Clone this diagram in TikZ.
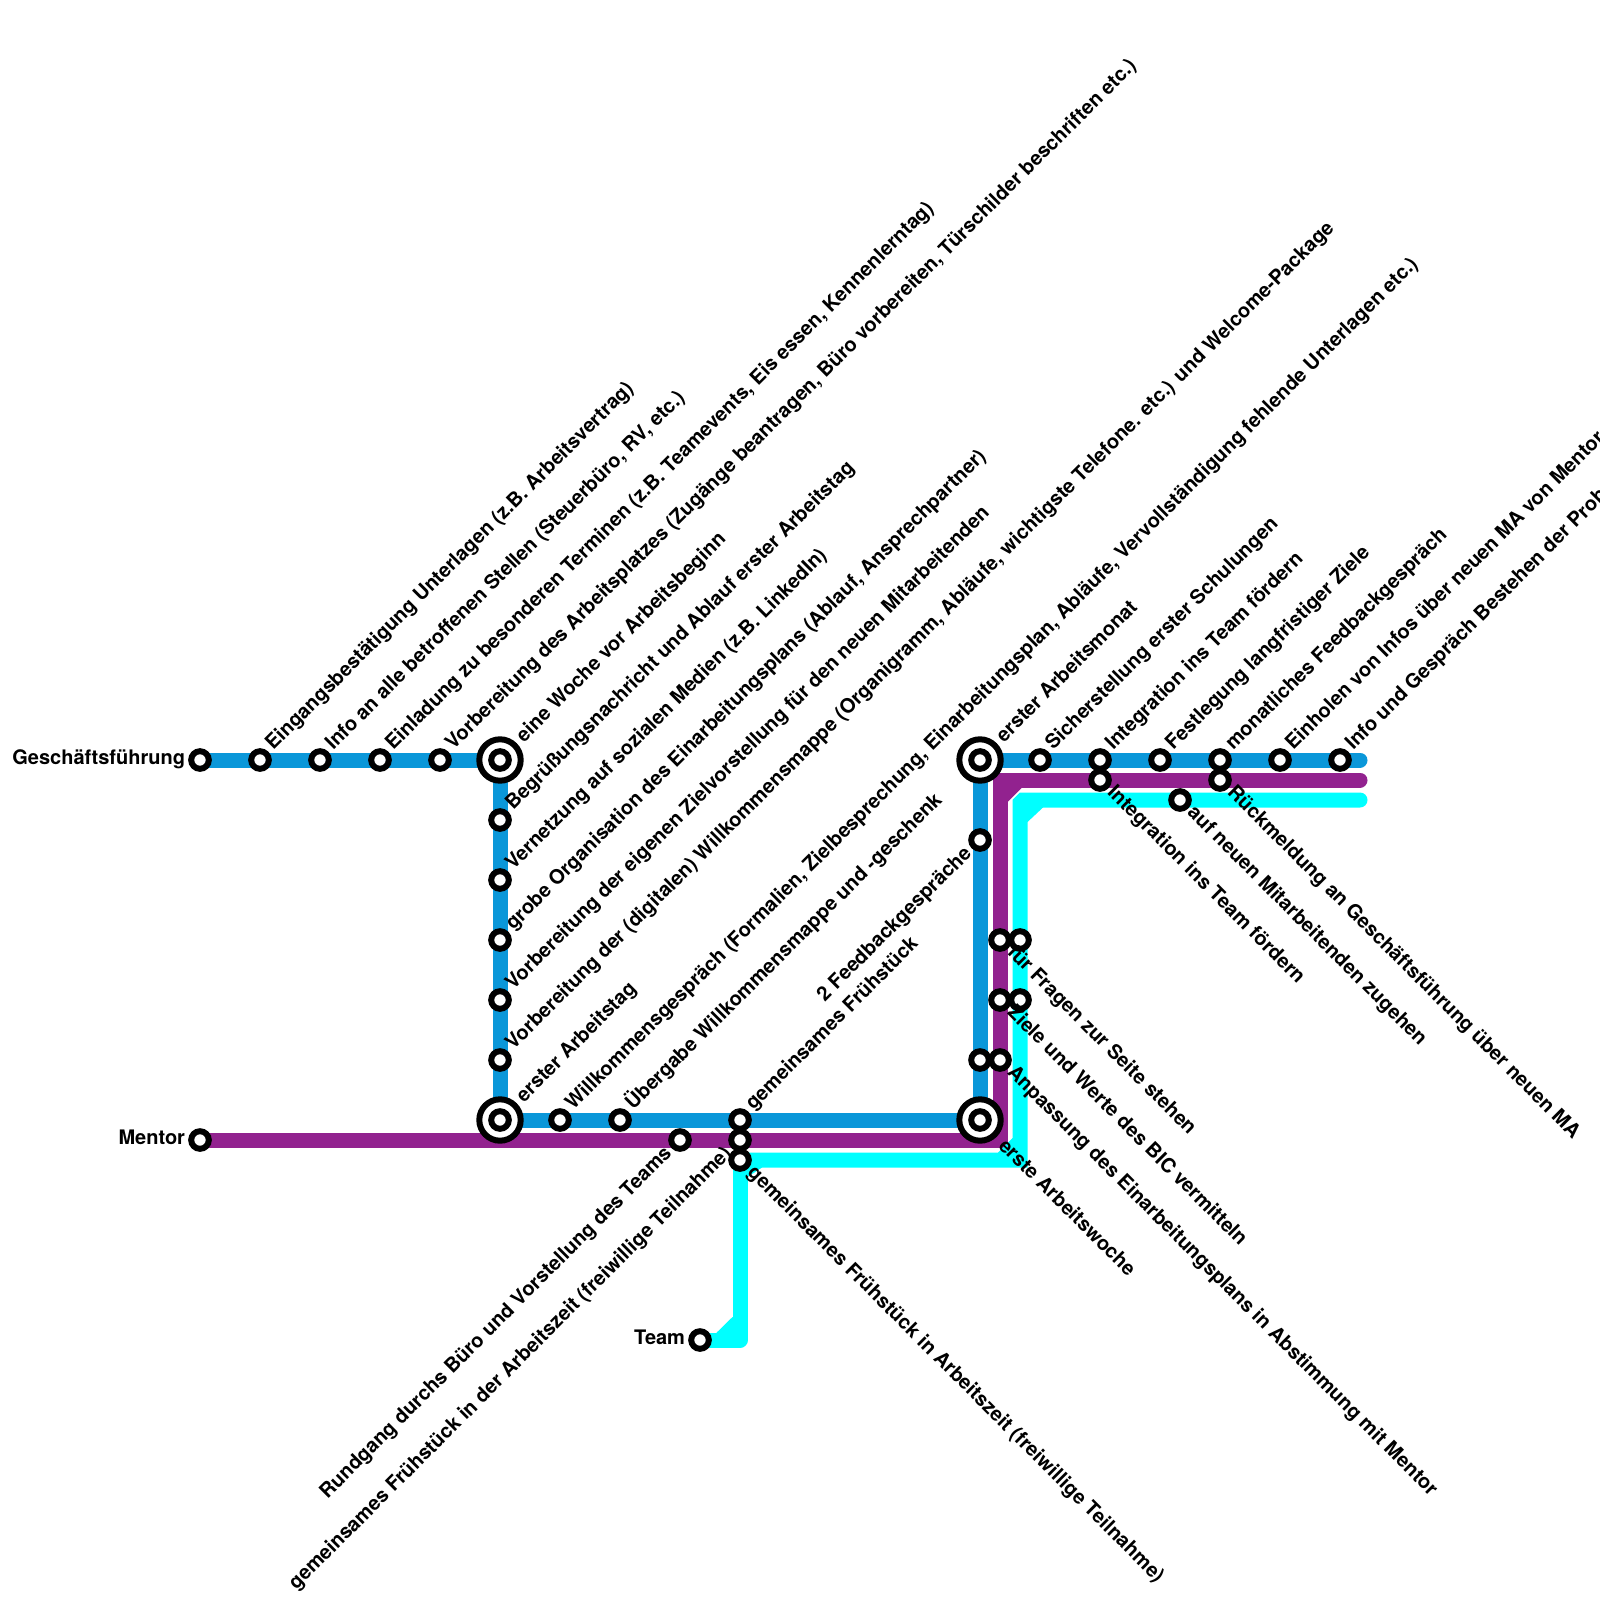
\documentclass[tikz,border=0pt]{standalone}
\usepackage{fontspec}
\setmainfont{TeX Gyre Heros}
\usetikzlibrary{backgrounds}
\definecolor{lineblue}{HTML}{0A97D9}
\definecolor{linepurple}{HTML}{92228F}
\definecolor{linecyan}{HTML}{00FFFF}
\tikzset{
  stationdot/.style={circle,draw=black,fill=white,line width=6pt,inner sep=0pt,minimum size=17.6pt},
  stationbig/.style={circle,draw=black,fill=white,line width=6pt,inner sep=0pt,minimum size=41.4pt},
  lineend/.style={line width=15pt,line cap=round,line join=miter},
  uplabel/.style={rotate=45,anchor=base west,inner sep=0pt,outer sep=0pt,font=\fontsize{20}{24}\selectfont\bfseries},
  downlabel/.style={rotate=-45,anchor=base west,inner sep=0pt,outer sep=0pt,font=\fontsize{20}{24}\selectfont\bfseries},
  backlabel/.style={rotate=45,anchor=base east,inner sep=0pt,outer sep=0pt,font=\fontsize{20}{24}\selectfont\bfseries},
  namelabel/.style={anchor=base east,inner sep=0pt,outer sep=0pt,font=\fontsize{20}{24}\selectfont\bfseries},
}
\newcommand{\stn}[3]{\node[stationdot] (#1) at (#2,#3) {};}
\newcommand{\bigstn}[3]{\node[stationbig] (#1o) at (#2,#3) {}; \node[stationdot] (#1) at (#2,#3) {};}
\newcommand{\lu}[3]{\node[uplabel] (#1) at ([shift={(13.4,-9.2)}]#2.center) {#3};}
\newcommand{\lub}[3]{\node[uplabel] (#1) at ([shift={(24,-17)}]#2.center) {#3};}
\newcommand{\ld}[3]{\node[downlabel] (#1) at ([shift={(6.5,13.5)}]#2.center) {#3};}
\newcommand{\ldb}[3]{\node[downlabel] (#1) at ([shift={(17.5,27)}]#2.center) {#3};}
\newcommand{\lb}[3]{\node[backlabel] (#1) at ([shift={(-7.5,14.5)}]#2.center) {#3};}
\begin{document}
\begin{tikzpicture}[x=1pt,y=-1pt]
\useasboundingbox (0,0) rectangle (1600,1600);
\clip (0,0) rectangle (1600,1600);
% stations
\stn{gf}{200}{760}
\stn{a}{260}{760}\stn{b}{320}{760}\stn{c}{380}{760}\stn{d}{440}{760}
\bigstn{e}{500}{760}
\stn{f}{500}{820}\stn{g}{500}{880}\stn{h}{500}{940}\stn{i}{500}{1000}\stn{j}{500}{1060}
\bigstn{k}{500}{1120}
\stn{l}{560}{1120}\stn{m}{620}{1120}
\stn{men}{200}{1140}\stn{n}{680}{1140}
\stn{oa}{740}{1120}\stn{ob}{740}{1140}\stn{oc}{740}{1160}
\stn{team}{700}{1340}
\bigstn{p}{980}{1120}
\stn{qa}{980}{1060}\stn{qb}{1000}{1060}
\stn{ra}{1000}{1000}\stn{rb}{1020}{1000}
\stn{sa}{1000}{940}\stn{sb}{1020}{940}
\stn{t}{980}{840}
\bigstn{u}{980}{760}
\stn{v}{1040}{760}
\stn{wa}{1100}{760}\stn{wb}{1100}{780}
\stn{x}{1160}{760}\stn{xc}{1180}{800}
\stn{ya}{1220}{760}\stn{yb}{1220}{780}
\stn{z}{1280}{760}\stn{zz}{1340}{760}
% line ends and bends
\coordinate (blueend) at (1360,760);
\coordinate (purpleend) at (1360,780);
\coordinate (cyanend) at (1360,800);
\coordinate (purplebendb) at (1000,1140);
\coordinate (purplebendt) at (1000,780);
\coordinate (cyanbenda) at (740,1340);
\coordinate (cyanbendb) at (1020,1160);
\coordinate (cyanbendc) at (1020,803);
\coordinate (cyanbendd) at (1023,800);
\begin{pgfonlayer}{background}
  \draw[lineend,lineblue] (gf.center) -- (e.center) -- (k.center) -- (p.center) -- (u.center) -- (blueend);
  \draw[lineend,linepurple] (men.center) -- (purplebendb) -- (purplebendt) -- (purpleend);
  \fill[linepurple] (1007.5,802) -- (1022,787.5) -- (1022,785) -- (1005,785) -- (1005,802) -- cycle;
  \draw[lineend,linecyan,line join=round] (team.center) -- (cyanbenda) -- (oc.center);
  \draw[lineend,linecyan] (oc.center) -- (cyanbendb) -- (cyanbendc) -- (cyanbendd) -- (cyanend);
  \fill[linecyan] (716.7,1332.5) -- (732.5,1317) -- (735,1317) -- (735,1335) -- (716.7,1335) -- cycle;
  \fill[linecyan] (998,1152.5) -- (1012.5,1138) -- (1015,1138) -- (1015,1155) -- (998,1155) -- cycle;
  \fill[linecyan] (747.5,1177) -- (762,1167.5) -- (762,1165) -- (745,1165) -- (745,1177) -- cycle;
  \fill[linecyan] (1027.5,822) -- (1043,807.5) -- (1043,805) -- (1025,805) -- (1025,822) -- cycle;
\end{pgfonlayer}
% names
\node[namelabel] (tgf) at ([shift={(-15,4.5)}]gf.center) {Geschäftsführung};
\node[namelabel] (tmen) at ([shift={(-15,4.5)}]men.center) {Mentor};
\node[namelabel] (tteam) at ([shift={(-15,4.5)}]team.center) {Team};
% labels up
\lu{la}{a}{Eingangsbestätigung Unterlagen (z.B. Arbeitsvertrag)}
\lu{lb}{b}{Info an alle betroffenen Stellen (Steuerbüro, RV, etc.)}
\lu{lc}{c}{Einladung zu besonderen Terminen (z.B. Teamevents, Eis essen, Kennenlerntag)}
\lu{ld}{d}{Vorbereitung des Arbeitsplatzes (Zugänge beantragen, Büro vorbereiten, Türschilder beschriften etc.)}
\lub{le}{e}{eine Woche vor Arbeitsbeginn}
\lu{lf}{f}{Begrüßungsnachricht und Ablauf erster Arbeitstag}
\lu{lg}{g}{Vernetzung auf sozialen Medien (z.B. LinkedIn)}
\lu{lh}{h}{grobe Organisation des Einarbeitungsplans (Ablauf, Ansprechpartner)}
\lu{li}{i}{Vorbereitung der eigenen Zielvorstellung für den neuen Mitarbeitenden}
\lu{lj}{j}{Vorbereitung der (digitalen) Willkommensmappe (Organigramm, Abläufe, wichtigste Telefone. etc.) und Welcome-Package}
\lub{lk}{k}{erster Arbeitstag}
\lu{ll}{l}{Willkommensgespräch (Formalien, Zielbesprechung, Einarbeitungsplan, Abläufe, Vervollständigung fehlende Unterlagen etc.)}
\lu{lm}{m}{Übergabe Willkommensmappe und -geschenk}
\lu{loa}{oa}{gemeinsames Frühstück}
\lub{lu}{u}{erster Arbeitsmonat}
\lu{lv}{v}{Sicherstellung erster Schulungen}
\lu{lwa}{wa}{Integration ins Team fördern}
\lu{lx}{x}{Festlegung langfristiger Ziele}
\lu{lya}{ya}{monatliches Feedbackgespräch}
\lu{lz}{z}{Einholen von Infos über neuen MA von Mentor}
\lu{lzz}{zz}{Info und Gespräch Bestehen der Probezeit}
% labels back
\lb{lt}{t}{2 Feedbackgespräche}
\lb{ln}{n}{Rundgang durchs Büro und Vorstellung des Teams}
\lb{lob}{ob}{gemeinsames Frühstück in der Arbeitszeit (freiwillige Teilnahme)}
% labels down
\ld{loc}{oc}{gemeinsames Frühstück in Arbeitszeit (freiwillige Teilnahme)}
\ldb{lp}{p}{erste Arbeitswoche}
\ld{lqb}{qb}{Anpassung des Einarbeitungsplans in Abstimmung mit Mentor}
\ld{lra}{ra}{Ziele und Werte des BIC vermitteln}
\ld{lsa}{sa}{für Fragen zur Seite stehen}
\ld{lwb}{wb}{Integration ins Team fördern}
\ld{lxc}{xc}{auf neuen Mitarbeitenden zugehen}
\ld{lyb}{yb}{Rückmeldung an Geschäftsführung über neuen MA}
\end{tikzpicture}
\end{document}
